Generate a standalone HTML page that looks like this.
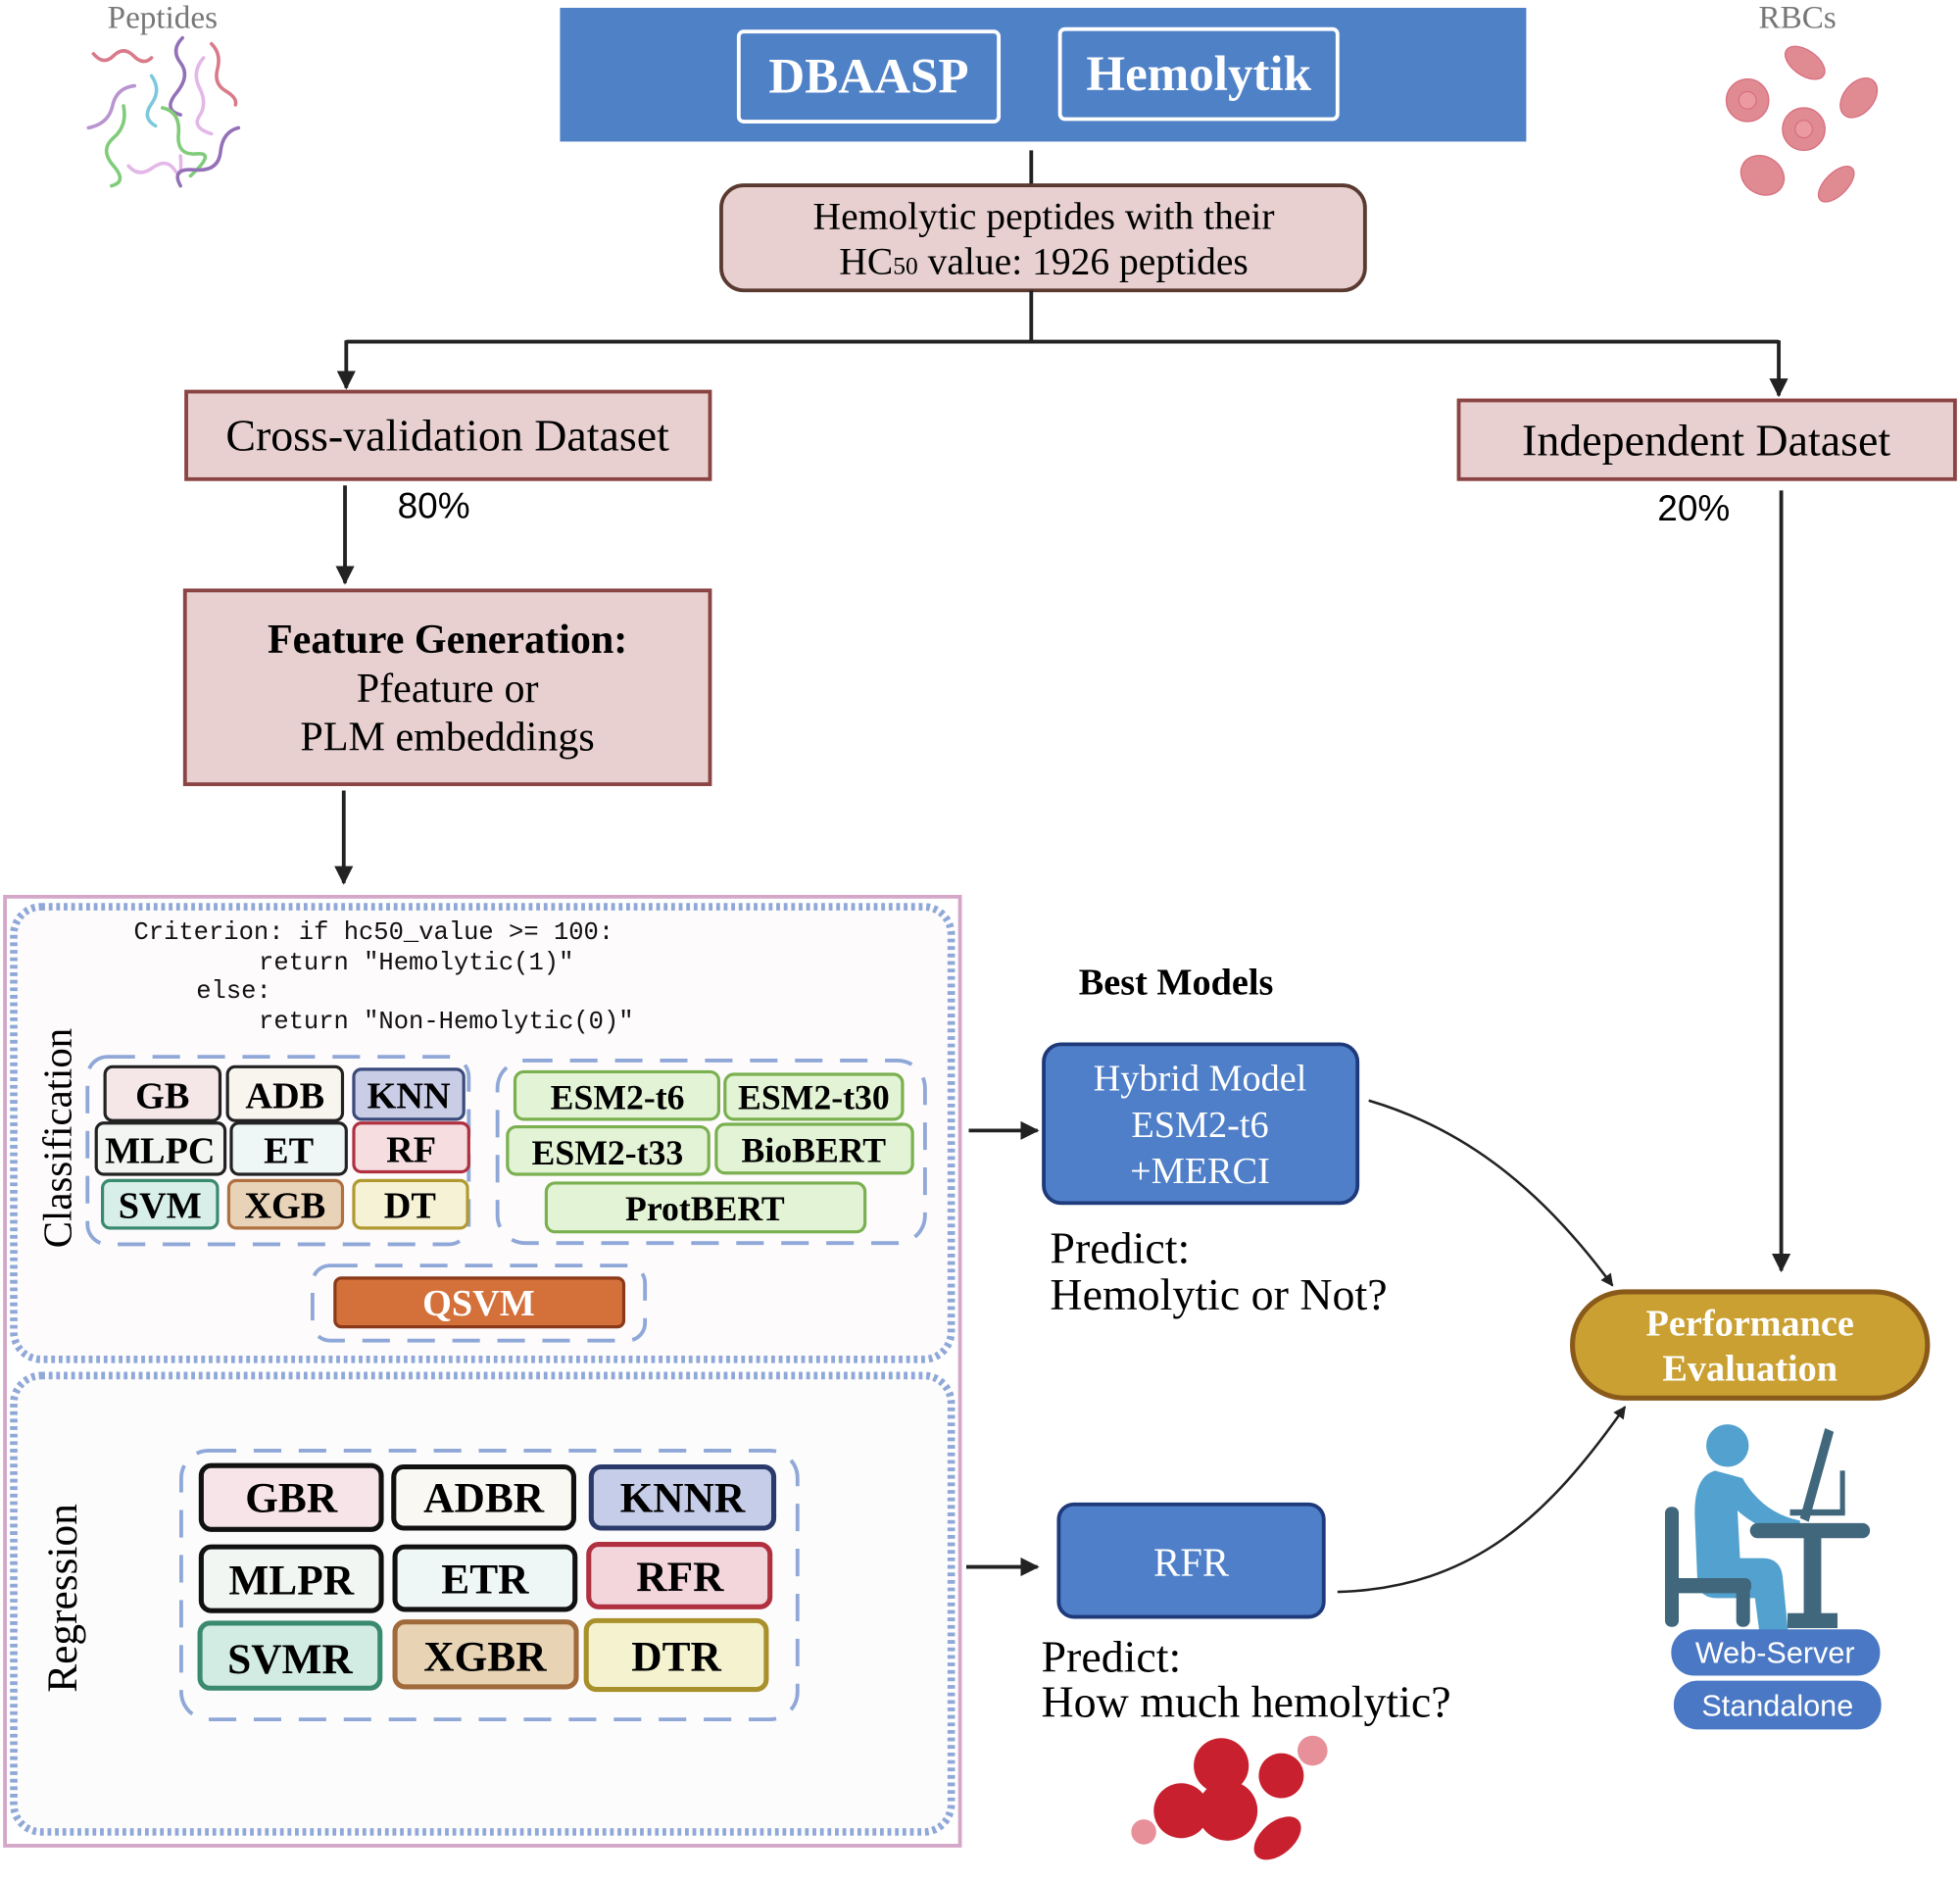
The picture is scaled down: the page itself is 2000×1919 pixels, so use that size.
<!DOCTYPE html>
<html><head><meta charset="utf-8"><style>
html,body{margin:0;padding:0;background:#fff}
svg{display:block}
.s{font-family:"Liberation Serif",serif}
.m{font-family:"Liberation Mono",monospace}
.a{font-family:"Liberation Sans",sans-serif}
</style></head><body>
<svg width="2000" height="1919" viewBox="0 0 1568 1504" xmlns="http://www.w3.org/2000/svg">
<defs>
<marker id="ar" viewBox="0 0 10 10" refX="9" refY="5" markerWidth="5" markerHeight="5" orient="auto"><path d="M0,0 L10,5 L0,10 Z" fill="#222"/></marker>
</defs>
<rect width="1568" height="1504" fill="#fff"/>

<!-- Peptides -->
<text x="130" y="22" class="s" font-size="26" fill="#777" text-anchor="middle">Peptides</text>
<g fill="none" stroke-width="3.5" stroke-linecap="round" transform="translate(70,30) scale(0.8) translate(-90,-36)">
<path d="M96,52 q10,12 20,2 t20,0 t18,2" stroke="#d97a8a"/>
<path d="M185,36 q-12,12 -2,25 t-4,30 t4,22" stroke="#9470b8"/>
<path d="M214,42 q10,10 6,25 t8,22 t10,14" stroke="#d97a8a"/>
<path d="M206,56 q-12,14 -4,30 t0,28 t12,18" stroke="#e3b8e8"/>
<path d="M137,84 q-18,2 -22,20 t-24,22" stroke="#b894d0"/>
<path d="M154,74 q10,14 0,28 t4,22" stroke="#7cc8dc"/>
<path d="M126,104 q4,20 -10,32 t0,28 t-2,20" stroke="#80cc7a"/>
<path d="M165,106 q18,4 16,26 t18,20 t-6,22" stroke="#80cc7a"/>
<path d="M131,164 q10,12 24,2 t22,2 t6,-14" stroke="#e3b8e8"/>
<path d="M241,126 q-16,4 -18,24 t-26,18 t-14,16" stroke="#9470b8"/>
</g>

<!-- RBCs -->
<text x="1438" y="22" class="s" font-size="26" fill="#777" text-anchor="middle">RBCs</text>
<g fill="#e08a92" stroke="#d87080" stroke-width="1">
<ellipse cx="1444" cy="50" rx="18" ry="10" transform="rotate(35 1444 50)"/>
<circle cx="1398" cy="80" r="17"/><circle cx="1398" cy="80" r="7" fill="#ec9aa2"/>
<ellipse cx="1487" cy="78" rx="18" ry="12" transform="rotate(-50 1487 78)"/>
<circle cx="1443" cy="103" r="17"/><circle cx="1443" cy="103" r="7" fill="#ec9aa2"/>
<ellipse cx="1410" cy="140" rx="18" ry="15" transform="rotate(30 1410 140)"/>
<ellipse cx="1469" cy="147" rx="18" ry="9" transform="rotate(-45 1469 147)"/>
</g>

<!-- top bar -->
<rect x="448" y="6" width="773" height="107" fill="#4f81c7"/>
<rect x="591" y="25" width="208" height="72" rx="4" fill="none" stroke="#fff" stroke-width="3"/>
<text x="695" y="74" class="s" font-size="40" font-weight="bold" fill="#fff" text-anchor="middle">DBAASP</text>
<rect x="848" y="23" width="222" height="72" rx="4" fill="none" stroke="#fff" stroke-width="3"/>
<text x="959" y="72" class="s" font-size="40" font-weight="bold" fill="#fff" text-anchor="middle">Hemolytik</text>

<line x1="825" y1="120" x2="825" y2="148" stroke="#222" stroke-width="3"/>
<rect x="577" y="148" width="515" height="84" rx="18" fill="#e8d0d0" stroke="#5a3a30" stroke-width="3"/>
<text x="835" y="183" class="s" font-size="31" text-anchor="middle">Hemolytic peptides with their</text>
<text x="835" y="219" class="s" font-size="31" text-anchor="middle">HC<tspan font-size="20">50</tspan> value: 1926 peptides</text>

<g stroke="#222" stroke-width="3" fill="none">
<line x1="825" y1="232" x2="825" y2="273"/>
<line x1="277" y1="273" x2="1423" y2="273"/>
<line x1="277" y1="272" x2="277" y2="310" marker-end="url(#ar)"/>
<line x1="1423" y1="272" x2="1423" y2="316" marker-end="url(#ar)"/>
<line x1="276" y1="388" x2="276" y2="466" marker-end="url(#ar)"/>
<line x1="275" y1="632" x2="275" y2="706" marker-end="url(#ar)"/>
<line x1="1425" y1="392" x2="1425" y2="1016" marker-end="url(#ar)"/>
<line x1="775" y1="904" x2="830" y2="904" marker-end="url(#ar)"/>
<line x1="773" y1="1253" x2="830" y2="1253" marker-end="url(#ar)"/>
<path d="M1095,880 C1180,905 1240,960 1290,1028" stroke-width="2" marker-end="url(#ar)"/>
<path d="M1070,1273 C1180,1270 1240,1210 1300,1125" stroke-width="2" marker-end="url(#ar)"/>
</g>

<rect x="149" y="313" width="419" height="70" fill="#e8d0d0" stroke="#8b4444" stroke-width="3"/>
<text x="358" y="360" class="s" font-size="36" text-anchor="middle">Cross-validation Dataset</text>
<text x="318" y="414" class="a" font-size="29">80%</text>
<rect x="1167" y="320" width="397" height="63" fill="#e8d0d0" stroke="#8b4444" stroke-width="3"/>
<text x="1365" y="364" class="s" font-size="36" text-anchor="middle">Independent Dataset</text>
<text x="1326" y="416" class="a" font-size="29">20%</text>

<rect x="148" y="472" width="420" height="155" fill="#e8d0d0" stroke="#8b4444" stroke-width="3"/>
<text x="358" y="522" class="s" font-size="33" font-weight="bold" text-anchor="middle">Feature Generation:</text>
<text x="358" y="561" class="s" font-size="33" text-anchor="middle">Pfeature or</text>
<text x="358" y="600" class="s" font-size="33" text-anchor="middle">PLM embeddings</text>

<!-- big panel -->
<rect x="4" y="717" width="764" height="759" fill="#fff" stroke="#d4a7c9" stroke-width="3"/>
<rect x="11" y="725" width="750" height="362" rx="22" fill="#fdfbfc" stroke="#8fa8d8" stroke-width="6" stroke-dasharray="3 3"/>
<rect x="11" y="1100" width="750" height="365" rx="22" fill="#fdfcfc" stroke="#8fa8d8" stroke-width="6" stroke-dasharray="3 3"/>

<text class="m" font-size="20" fill="#111"><tspan x="107" y="751">Criterion: if hc50_value &gt;= 100:</tspan><tspan x="207" y="775">return "Hemolytic(1)"</tspan><tspan x="157" y="798">else:</tspan><tspan x="207" y="822">return "Non-Hemolytic(0)"</tspan></text>

<text transform="translate(57,910) rotate(-90)" class="s" font-size="32" text-anchor="middle">Classification</text>
<text transform="translate(61,1278) rotate(-90)" class="s" font-size="34" text-anchor="middle">Regression</text>

<g fill="none" stroke="#8fa8d8" stroke-width="3" stroke-dasharray="22 14">
<rect x="70" y="845" width="305" height="150" rx="16"/>
<rect x="398" y="848" width="342" height="146" rx="22"/>
<rect x="250" y="1012" width="266" height="60" rx="14"/>
<rect x="145" y="1160" width="493" height="215" rx="22"/>
</g>

<g class="s" font-size="30" font-weight="bold" text-anchor="middle" stroke-width="2.5">
<rect x="84" y="853" width="92" height="43" rx="6" fill="#f5e6e8" stroke="#222"/><text x="130" y="886">GB</text>
<rect x="182" y="853" width="92" height="43" rx="6" fill="#f8f5ee" stroke="#222"/><text x="228" y="886">ADB</text>
<rect x="283" y="855" width="88" height="40" rx="6" fill="#c9cde6" stroke="#3a4a7a"/><text x="327" y="886">KNN</text>
<rect x="77" y="898" width="103" height="41" rx="6" fill="#f2f5f2" stroke="#222"/><text x="128" y="930">MLPC</text>
<rect x="185" y="898" width="92" height="41" rx="6" fill="#eef7f5" stroke="#222"/><text x="231" y="930">ET</text>
<rect x="283" y="898" width="92" height="39" rx="6" fill="#f5dde0" stroke="#b03040"/><text x="329" y="929">RF</text>
<rect x="82" y="944" width="92" height="38" rx="6" fill="#d7efe8" stroke="#3a8a70"/><text x="128" y="974">SVM</text>
<rect x="183" y="944" width="91" height="38" rx="6" fill="#e8d2b8" stroke="#b07040"/><text x="228" y="974">XGB</text>
<rect x="283" y="944" width="91" height="38" rx="6" fill="#f5f2d5" stroke="#b09a30"/><text x="328" y="974">DT</text>
</g>
<g class="s" font-size="28" font-weight="bold" text-anchor="middle" stroke-width="2.5">
<rect x="412" y="857" width="163" height="38" rx="7" fill="#e3f3d5" stroke="#7ab050"/><text x="494" y="887">ESM2-t6</text>
<rect x="580" y="859" width="142" height="36" rx="7" fill="#e3f3d5" stroke="#7ab050"/><text x="651" y="887">ESM2-t30</text>
<rect x="406" y="901" width="161" height="38" rx="7" fill="#e3f3d5" stroke="#7ab050"/><text x="486" y="931">ESM2-t33</text>
<rect x="573" y="899" width="157" height="39" rx="7" fill="#e3f3d5" stroke="#7ab050"/><text x="651" y="929">BioBERT</text>
<rect x="437" y="946" width="255" height="39" rx="7" fill="#e3f3d5" stroke="#7ab050"/><text x="564" y="976">ProtBERT</text>
</g>
<rect x="268" y="1022" width="231" height="39" rx="5" fill="#d4703a" stroke="#8a3a1a" stroke-width="2.5"/>
<text x="383" y="1052" class="s" font-size="30" font-weight="bold" fill="#fff" text-anchor="middle">QSVM</text>

<g class="s" font-size="34" font-weight="bold" text-anchor="middle" stroke-width="4">
<rect x="161" y="1172" width="144" height="51" rx="8" fill="#f6e4e8" stroke="#111"/><text x="233" y="1209">GBR</text>
<rect x="315" y="1173" width="144" height="49" rx="8" fill="#f9f8f2" stroke="#111"/><text x="387" y="1209">ADBR</text>
<rect x="473" y="1173" width="146" height="49" rx="8" fill="#c6cde8" stroke="#2a3a6a"/><text x="546" y="1209">KNNR</text>
<rect x="161" y="1237" width="144" height="51" rx="8" fill="#f2f6f2" stroke="#111"/><text x="233" y="1275">MLPR</text>
<rect x="316" y="1237" width="144" height="50" rx="8" fill="#eef7f5" stroke="#111"/><text x="388" y="1274">ETR</text>
<rect x="471" y="1235" width="145" height="50" rx="8" fill="#f3d6dc" stroke="#b03040"/><text x="544" y="1272">RFR</text>
<rect x="160" y="1298" width="144" height="52" rx="8" fill="#d2ece3" stroke="#3a8a70"/><text x="232" y="1338">SVMR</text>
<rect x="316" y="1297" width="145" height="52" rx="8" fill="#e8d4b4" stroke="#a06a3a"/><text x="388" y="1336">XGBR</text>
<rect x="469" y="1296" width="144" height="55" rx="8" fill="#f5f2cf" stroke="#a8902a"/><text x="541" y="1336">DTR</text>
</g>

<!-- right side -->
<text x="863" y="795" class="s" font-size="30" font-weight="bold">Best Models</text>
<rect x="835" y="835" width="251" height="127" rx="14" fill="#4f7fc8" stroke="#1f3a7a" stroke-width="3"/>
<text class="s" font-size="30" fill="#fff" text-anchor="middle"><tspan x="960" y="872">Hybrid Model</tspan><tspan x="960" y="909">ESM2-t6</tspan><tspan x="960" y="946">+MERCI</tspan></text>
<text class="s" font-size="36"><tspan x="840" y="1010">Predict:</tspan><tspan x="840" y="1047">Hemolytic or Not?</tspan></text>

<rect x="847" y="1203" width="212" height="90" rx="12" fill="#4f7fc8" stroke="#1f3a7a" stroke-width="3"/>
<text x="953" y="1260" class="s" font-size="32" fill="#fff" text-anchor="middle">RFR</text>
<text class="s" font-size="36"><tspan x="833" y="1337">Predict:</tspan><tspan x="833" y="1373">How much hemolytic?</tspan></text>

<!-- blood splash -->
<g fill="#c8202e">
<circle cx="977" cy="1412" r="22"/><circle cx="945" cy="1448" r="22"/><circle cx="982" cy="1448" r="24"/>
<ellipse cx="1022" cy="1470" rx="22" ry="13" transform="rotate(-40 1022 1470)"/>
<circle cx="1025" cy="1420" r="18"/>
<circle cx="915" cy="1465" r="10" fill="#e8909a"/><circle cx="1050" cy="1400" r="12" fill="#e8909a"/>
</g>

<rect x="1258" y="1033" width="284" height="85" rx="42" fill="#c9a031" stroke="#8a5a1a" stroke-width="4"/>
<text class="s" font-size="30" font-weight="bold" fill="#fff" text-anchor="middle"><tspan x="1400" y="1068">Performance</tspan><tspan x="1400" y="1104">Evaluation</tspan></text>

<!-- person icon -->
<circle cx="1382" cy="1156" r="17" fill="#52a1cf"/>
<path d="M1372,1176 q-18,5 -16,40 l2,50 q2,12 16,12 l30,0 l8,62 l22,0 l-8,-80 q-2,-14 -16,-14 l-18,0 l-2,-38 q20,18 50,22 l0,-14 q-30,-6 -46,-34 z" fill="#52a1cf"/>
<g fill="#41677d">
<rect x="1332" y="1205" width="11" height="96" rx="5"/>
<rect x="1335" y="1262" width="66" height="12" rx="5"/>
<rect x="1389" y="1264" width="11" height="37" rx="5"/>
<rect x="1400" y="1218" width="96" height="12" rx="6"/>
<rect x="1443" y="1226" width="14" height="75"/>
<rect x="1430" y="1290" width="40" height="12"/>
<path d="M1460,1142 l7,3 l-20,72 l-7,-3 z"/>
<rect x="1432" y="1207" width="44" height="5"/>
<rect x="1472" y="1176" width="4" height="34"/>
</g>

<rect x="1337" y="1303" width="167" height="37" rx="18" fill="#4a78c4"/>
<text x="1420" y="1330" class="a" font-size="24" fill="#fff" text-anchor="middle">Web-Server</text>
<rect x="1339" y="1344" width="166" height="39" rx="19" fill="#4a78c4"/>
<text x="1422" y="1372" class="a" font-size="24" fill="#fff" text-anchor="middle">Standalone</text>
</svg>
</body></html>
